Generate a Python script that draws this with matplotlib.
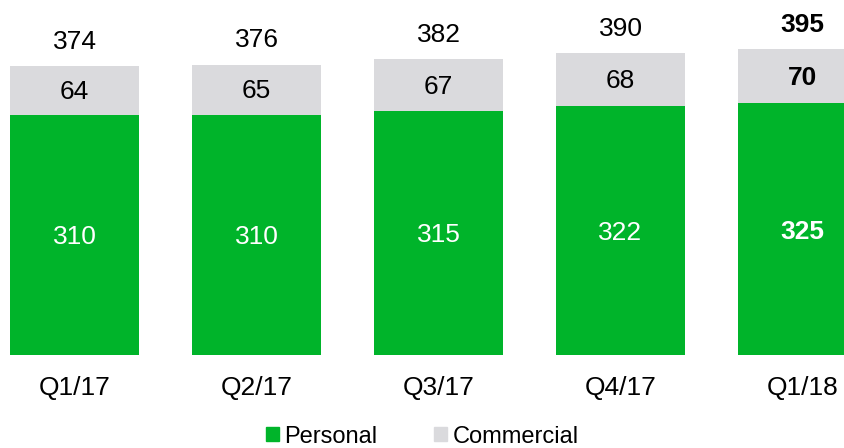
import matplotlib
matplotlib.use("Agg")
import matplotlib.pyplot as plt
from matplotlib.patches import Patch
import numpy as np

plt.rcParams['font.family'] = ['Liberation Sans', 'DejaVu Sans']

quarters = ['Q1/17', 'Q2/17', 'Q3/17', 'Q4/17', 'Q1/18']
personal = [310, 310, 315, 322, 325]
commercial = [64, 65, 67, 68, 70]
totals = [374, 376, 382, 390, 395]

green = '#00B42A'
grey = '#DADADD'

fig = plt.figure(figsize=(8.45, 4.48), dpi=100)
ax = fig.add_axes([0, 0, 1, 1])
ax.set_axis_off()

x = np.arange(len(quarters))
w = 0.709
ax.bar(x, personal, width=w, color=green, linewidth=0)
ax.bar(x, commercial, width=w, bottom=personal, color=grey, linewidth=0)

fs = 19
for i in range(len(quarters)):
    weight = 'bold' if i == len(quarters) - 1 else 'normal'
    ax.text(x[i], personal[i] / 2 - 3, str(personal[i]), ha='center', va='center',
            color='white', fontsize=fs, fontweight=weight)
    ax.text(x[i], personal[i] + commercial[i] / 2 - 2, str(commercial[i]),
            ha='center', va='center', color='black', fontsize=fs, fontweight=weight)
    ax.text(x[i], totals[i] + 31, str(totals[i]), ha='center', va='center',
            color='black', fontsize=fs, fontweight=weight)
    ax.text(x[i], -42, quarters[i], ha='center', va='center',
            color='black', fontsize=fs)

ax.set_xlim(-74.5 / 182, (845 - 74.5) / 182)
ax.set_ylim(-(448 - 355) / 0.774, 355 / 0.774)

handles = [Patch(color=green, label='Personal'), Patch(color=grey, label='Commercial')]
fig.legend(handles=handles, loc='center', bbox_to_anchor=(0.5, 1 - 436.5 / 448),
           ncol=2, frameon=False, fontsize=17, handlelength=0.55, handleheight=0.55,
           handletextpad=0.25, columnspacing=2.4, borderpad=0)

fig.savefig('out.png', dpi=100)
